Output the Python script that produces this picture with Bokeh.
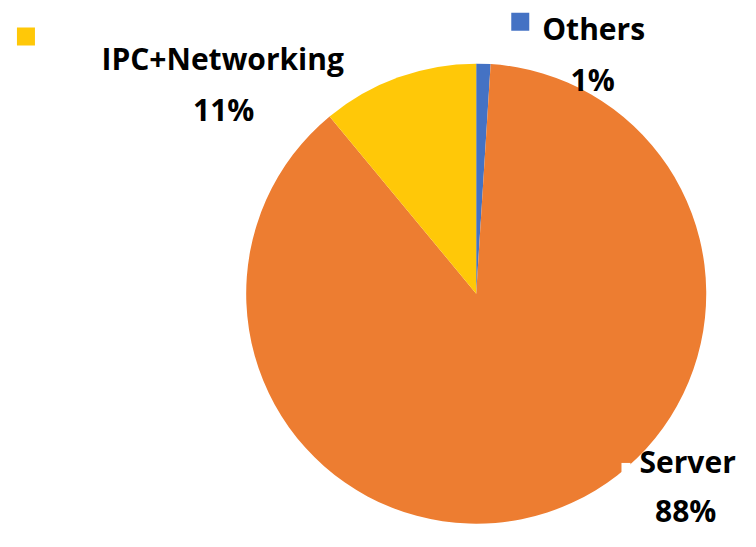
import math
from bokeh.plotting import figure
from bokeh.models import Range1d, ColumnDataSource
from bokeh.core.properties import value
from bokeh.embed import file_html
from bokeh.resources import INLINE

categories = ["Others", "Server", "IPC+Networking"]
values = [1, 88, 11]
labels_pct = ["1%", "88%", "11%"]
colors = ["#4472C4", "#ED7D31", "#FFC808"]

W, H = 740, 531
RW, RH = 756, 547  # reference frame
p = figure(width=W, height=H, output_backend="svg", toolbar_location=None,
           x_range=Range1d(0, RW), y_range=Range1d(0, RH),
           min_border=0, outline_line_color=None)
p.axis.visible = False
p.grid.visible = False

def py(y):
    return RH - y

cx, cy, r = 486, py(302), 235
total = sum(values)
starts, ends = [], []
cum = 0
for v in values:
    a0 = math.pi / 2 - 2 * math.pi * cum / total
    cum += v
    a1 = math.pi / 2 - 2 * math.pi * cum / total
    starts.append(a1)
    ends.append(a0)

src = ColumnDataSource(dict(start=starts, end=ends, color=colors, cat=categories))
p.wedge(x=cx, y=cy, radius=r, start_angle="start", end_angle="end",
        fill_color="color", line_color=None, source=src)

fs = "30px"
dy = 12.5  # compensation for svg baseline placement
name_pos = [(606, 41), (702, 487), (227, 72)]
pct_pos = [(605, 94), (700, 538), (228, 125)]
p.text(x=[q[0] for q in name_pos], y=[py(q[1] - dy) for q in name_pos], text=categories,
       text_font=value("Open Sans"), text_font_style="bold", text_font_size=fs,
       text_align="center", text_baseline="alphabetic", text_color="#000000")
p.text(x=[q[0] for q in pct_pos], y=[py(q[1] - dy) for q in pct_pos], text=labels_pct,
       text_font=value("Open Sans"), text_font_style="bold", text_font_size=fs,
       text_align="center", text_baseline="alphabetic", text_color="#000000")

# legend-key squares
p.scatter(x=[531, 26], y=[py(22), py(37)], marker="square", size=18,
          fill_color=[colors[0], colors[2]], line_color=None)
p.scatter(x=[639], y=[py(481)], marker="square", size=9,
          fill_color="white", line_color=None)

open("out.html", "w").write(file_html(p, INLINE))
